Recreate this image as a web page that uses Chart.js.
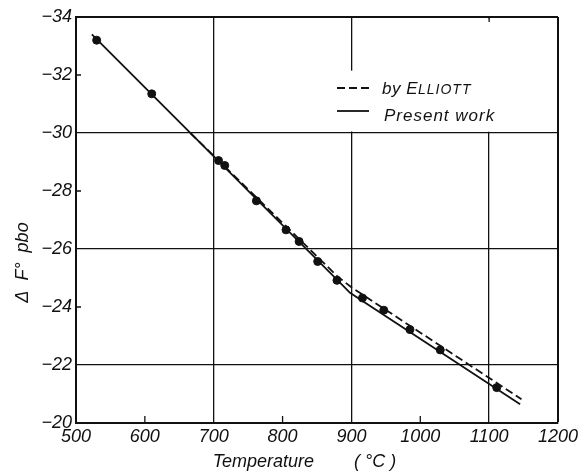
<!DOCTYPE html>
<html>
<head>
<meta charset="utf-8">
<script src="https://cdn.jsdelivr.net/npm/chart.js@4/dist/chart.umd.min.js"></script>
<style>
  html, body { margin: 0; padding: 0; background: #fff; }
  #wrap { width: 585px; height: 475px; }
</style>
</head>
<body>
<div id="wrap"><canvas id="c" width="585" height="475"></canvas></div>
<script>
// Temperature (°C) and standard free energy of formation of PbO (kcal)
const presentT = [530, 610, 707, 716, 762, 805, 824, 851, 879, 916, 947, 985, 1029, 1111];
const presentF = [-33.20, -31.35, -29.05, -28.88, -27.66, -26.66, -26.26, -25.57, -24.92, -24.31, -23.89, -23.22, -22.52, -21.22];

// fitted line of the present work
const presentLineT = [523, 888, 898, 910, 1145];
const presentLineF = [-33.40, -24.73, -24.49, -24.30, -20.65];

// line after Elliott
const elliottT = [666, 880, 900, 1147];
const elliottF = [-30.00, -25.05, -24.68, -20.82];

const xTicks = [500, 600, 700, 800, 900, 1000, 1100, 1200];
const yTicks = [-34, -32, -30, -28, -26, -24, -22, -20];
const xGridAt = [700, 900, 1100, 1200];
const yGridAt = [-34, -30, -26, -22];
const xMinorAt = [600, 800, 1000];
const yMinorAt = [-32, -28, -24];

const labels = { elliott: 'by ELLIOTT', present: 'Present work' };

const toXY = (xs, ys) => xs.map((v, i) => ({ x: v, y: ys[i] }));
const INK = '#111';
const FONT = '"Liberation Sans", Arial, sans-serif';

const paperPlugin = {
  id: 'paper',
  beforeDatasetsDraw(chart) {
    const { ctx, scales: { x, y } } = chart;
    ctx.save();
    ctx.fillStyle = '#fff';
    // the 1100 line only runs below -30
    const x11 = x.getPixelForValue(1100);
    const yTop = y.getPixelForValue(-34), y30 = y.getPixelForValue(-30);
    ctx.fillRect(x11 - 3, yTop + 1.5, 6, y30 - yTop - 3);
    // blank space behind the key
    const kx = x.getPixelForValue(862), ky = y.getPixelForValue(-32.15);
    ctx.fillRect(kx, ky, x.getPixelForValue(1200) - 1.5 - kx, y30 - 1.5 - ky);

    // short inward tick marks
    ctx.strokeStyle = INK;
    ctx.lineWidth = 1.3;
    ctx.beginPath();
    const yb = y.getPixelForValue(-20);
    xMinorAt.forEach(v => { const px = x.getPixelForValue(v); ctx.moveTo(px, yb); ctx.lineTo(px, yb - 7); });
    const xl = x.getPixelForValue(500);
    yMinorAt.forEach(v => { const py = y.getPixelForValue(v); ctx.moveTo(xl, py); ctx.lineTo(xl + 5, py); });
    ctx.moveTo(x11, yTop); ctx.lineTo(x11, yTop + 5);
    ctx.stroke();
    ctx.restore();
  },
  afterDatasetsDraw(chart) {
    const { ctx, chartArea: a } = chart;
    const ds = chart.data.datasets;
    const sx0 = a.left + 261, sx1 = a.left + 293, tx = a.left + 306;
    const rows = [
      { d: ds[1], y: a.top + 71 },
      { d: ds[0], y: a.top + 94 }
    ];
    ctx.save();
    rows.forEach(r => {
      ctx.strokeStyle = r.d.borderColor;
      ctx.lineWidth = r.d.borderWidth;
      ctx.setLineDash(r.d.borderDash || []);
      ctx.beginPath();
      ctx.moveTo(sx0, r.y);
      ctx.lineTo(sx1, r.y);
      ctx.stroke();
    });
    ctx.setLineDash([]);
    ctx.fillStyle = INK;
    ctx.textBaseline = 'alphabetic';
    // "by E" + small capitals
    let px = tx;
    const by = rows[0].y + 5.5;
    ctx.letterSpacing = '0.5px';
    ctx.font = 'italic 17px ' + FONT;
    const head = labels.elliott.slice(0, 4);
    ctx.fillText(head, px, by);
    px += ctx.measureText(head).width;
    ctx.letterSpacing = '1px';
    ctx.font = 'italic 14px ' + FONT;
    ctx.fillText(labels.elliott.slice(4), px, by);
    ctx.font = 'italic 17px ' + FONT;
    ctx.letterSpacing = '1px';
    ctx.fillText(labels.present, tx + 2, rows[1].y + 10);
    ctx.restore();
  }
};

new Chart(document.getElementById('c'), {
  type: 'scatter',
  data: {
    datasets: [
      {
        label: labels.present,
        type: 'line',
        data: toXY(presentLineT, presentLineF),
        borderColor: INK,
        borderWidth: 1.8,
        pointRadius: 0,
        tension: 0,
        fill: false
      },
      {
        label: labels.elliott,
        type: 'line',
        data: toXY(elliottT, elliottF),
        borderColor: INK,
        borderWidth: 1.8,
        borderDash: [8, 4],
        pointRadius: 0,
        tension: 0,
        fill: false
      },
      {
        label: 'points',
        data: toXY(presentT, presentF),
        backgroundColor: INK,
        borderColor: INK,
        pointRadius: 4,
        pointHoverRadius: 4
      }
    ]
  },
  options: {
    responsive: false,
    animation: false,
    events: [],
    layout: { padding: { left: 0, right: 27, top: 17, bottom: 0 } },
    plugins: { legend: { display: false }, tooltip: { enabled: false } },
    scales: {
      x: {
        type: 'linear',
        min: 500, max: 1200,
        afterBuildTicks: s => { s.ticks = xTicks.map(v => ({ value: v })); },
        afterFit: s => { s.height = 52; },
        grid: {
          drawTicks: false,
          color: c => xGridAt.includes(c.tick && c.tick.value) ? INK : 'rgba(0,0,0,0)',
          lineWidth: c => (c.tick && c.tick.value === 1200) ? 2 : 1.3
        },
        border: { display: true, color: INK, width: 2 },
        ticks: {
          padding: 3,
          color: INK,
          font: { family: FONT, size: 18, style: 'italic' },
          callback: v => String(v)
        },
        title: {
          display: true,
          text: 'Temperature        ( °C )     ',
          color: INK,
          padding: { top: 0, bottom: 2 },
          font: { family: FONT, size: 18, style: 'italic' }
        }
      },
      y: {
        type: 'linear',
        reverse: true,
        min: -34, max: -20,
        afterBuildTicks: s => { s.ticks = yTicks.map(v => ({ value: v })); },
        afterFit: s => { s.width = 76; },
        grid: {
          drawTicks: false,
          color: c => yGridAt.includes(c.tick && c.tick.value) ? INK : 'rgba(0,0,0,0)',
          lineWidth: c => (c.tick && c.tick.value === -34) ? 2 : 1.3
        },
        border: { display: true, color: INK, width: 2 },
        ticks: {
          padding: 4,
          color: INK,
          font: { family: FONT, size: 18, style: 'italic' },
          callback: v => '\u2212' + Math.abs(v)
        },
        title: {
          display: true,
          text: 'Δ  F°  pbo                 ',
          color: INK,
          padding: { top: 12, bottom: 0 },
          font: { family: FONT, size: 18, style: 'italic' }
        }
      }
    }
  },
  plugins: [paperPlugin]
});
</script>
</body>
</html>
